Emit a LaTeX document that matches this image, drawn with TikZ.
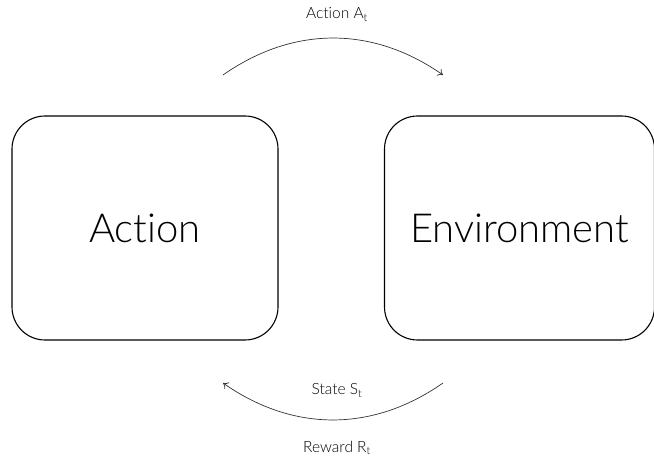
\documentclass[tikz,border=0pt]{standalone}
\usepackage{fontspec}
\setmainfont{Lato Light}[Ligatures={NoCommon}]
\usetikzlibrary{arrows.meta}
\begin{document}
\begin{tikzpicture}[x=1pt,y=1pt,
  box/.style={draw=black,line width=1.1pt,rounded corners=33pt,minimum height=224pt,inner sep=0pt,font=\fontsize{40}{48}\selectfont},
  lbl/.style={font=\fontsize{15.5}{18}\selectfont,inner sep=0pt,anchor=base},
  flow/.style={draw=black!80,line width=0.7pt,-{To[length=5pt,width=8pt]}}]
\useasboundingbox (0,0) rectangle (654,461);
\node[box,minimum width=266pt] (agent) at (145,233) {Action};
\node[box,minimum width=270pt] (env) at (519.5,233) {Environment};
\coordinate (a1) at (223,386);
\coordinate (a2) at (443,386);
\coordinate (b1) at (443,78);
\coordinate (b2) at (223,78);
\draw[flow] (a1) to[bend left=35] (a2);
\draw[flow] (b1) to[bend left=35] (b2);
\node[lbl] (act) at (337,442) {Action A\textsubscript{t}};
\node[lbl] (st) at (337,66) {State S\textsubscript{t}};
\node[lbl] (rw) at (337,9) {Reward R\textsubscript{t}};
\end{tikzpicture}
\end{document}
